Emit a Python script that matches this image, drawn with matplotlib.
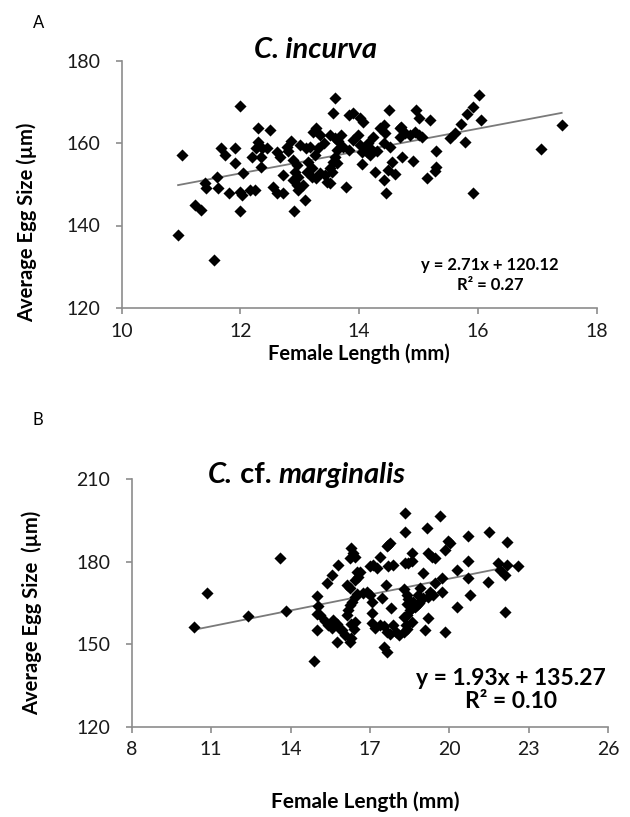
import matplotlib.pyplot as plt
import numpy as np

# Panel A: C. incurva (female length mm, average egg size um)
incurva_len = [10.95, 11.01, 11.23, 11.33, 11.40, 11.42, 11.55, 11.60, 11.62, 11.68,
               11.74, 11.80, 11.90, 11.90, 12.00, 12.00, 12.02, 12.00, 12.05, 12.16,
               12.25, 12.19, 12.30, 12.50, 12.30, 12.27, 12.37, 12.35, 12.35, 12.44,
               12.55, 12.61, 12.72, 12.61, 12.67, 12.78, 12.72, 12.90, 13.00, 13.11,
               13.09, 13.23, 13.28, 12.89, 12.95, 12.92, 12.97, 12.89, 12.95, 12.97,
               13.06, 13.12, 13.14, 13.20, 13.26, 13.31, 13.34, 13.28, 13.42, 13.45,
               13.51, 13.51, 13.56, 13.59, 13.62, 13.51, 13.59, 13.34, 13.17, 13.20,
               13.56, 13.59, 13.82, 13.90, 14.01, 14.07, 14.50, 14.96, 15.00, 15.20,
               16.02, 15.92, 15.81, 15.71, 15.61, 15.53, 16.05, 15.78, 15.91, 15.30,
               15.30, 15.27, 15.14, 14.91, 14.72, 14.56, 14.49, 14.60, 14.41, 14.45,
               14.27, 14.05, 13.78, 17.41, 17.06, 13.64, 13.70, 13.73, 13.82, 13.90,
               13.98, 14.01, 14.04, 14.10, 14.13, 14.15, 14.18, 14.21, 14.24, 14.35,
               14.41, 14.43, 14.41, 14.52, 14.69, 14.71, 14.77, 14.86, 14.94, 15.00,
               15.05, 14.69, 13.55, 13.62, 12.80, 12.85, 13.40, 14.30]
incurva_egg = [137.7, 157.1, 145.0, 143.8, 150.2, 149.0, 131.6, 151.8, 149.0, 158.9,
               157.1, 147.8, 158.9, 155.1, 169.0, 148.2, 147.4, 143.5, 152.7, 148.6,
               148.6, 156.7, 163.6, 163.2, 160.3, 158.7, 158.7, 156.7, 154.3, 158.7,
               149.4, 147.8, 147.8, 157.9, 156.7, 159.1, 152.2, 143.5, 159.5, 158.7,
               146.2, 162.7, 163.6, 155.9, 154.7, 153.0, 151.8, 151.0, 149.8, 148.6,
               149.8, 153.0, 155.5, 153.9, 157.1, 158.7, 152.7, 151.4, 152.2, 150.6,
               150.2, 153.9, 155.5, 156.7, 158.3, 161.9, 161.1, 161.9, 159.1, 151.8,
               167.2, 171.0, 166.8, 167.2, 166.0, 165.2, 168.0, 168.0, 166.0, 165.6,
               171.6, 168.8, 167.0, 164.5, 162.4, 161.1, 165.6, 160.2, 147.8, 158.1,
               154.3, 153.2, 151.4, 155.6, 156.7, 155.3, 153.5, 152.4, 151.0, 147.8,
               153.0, 154.8, 149.4, 164.4, 158.5, 160.5, 161.9, 159.1, 158.3, 160.7,
               161.9, 159.5, 157.9, 159.1, 157.9, 159.9, 157.1, 158.3, 161.5, 163.6,
               164.4, 162.4, 159.9, 159.1, 163.6, 164.0, 162.4, 161.9, 162.7, 161.9,
               161.5, 161.5, 153.0, 155.1, 158.0, 160.5, 160.0, 158.0]
incurva_fit = (2.71, 120.12)

# Panel B: C. cf. marginalis
marg_len = [10.36, 10.83, 12.40, 13.60, 13.83, 14.88, 14.99, 15.05, 14.99, 15.10,
            14.99, 15.30, 15.42, 15.55, 15.60, 15.75, 15.85, 15.36, 15.55, 15.80,
            15.74, 15.93, 16.05, 16.24, 16.30, 16.12, 16.24, 16.30, 16.37, 16.24,
            16.43, 16.50, 16.56, 16.43, 16.62, 16.33, 16.24, 16.18, 16.12, 16.43,
            16.50, 16.30, 16.40, 16.45, 16.87, 17.00, 17.06, 16.74, 17.00, 17.12,
            17.25, 17.38, 17.06, 17.38, 17.06, 17.19, 17.51, 17.63, 17.76, 17.51,
            17.63, 17.69, 17.75, 17.63, 17.69, 17.88, 17.88, 18.00, 18.10, 18.32,
            18.32, 18.32, 18.45, 18.57, 18.30, 18.40, 18.45, 18.40, 18.50, 18.40,
            18.30, 18.35, 18.40, 18.30, 18.70, 18.85, 19.64, 19.14, 19.96, 20.02,
            19.83, 20.71, 21.50, 22.18, 19.20, 19.33, 19.45, 18.57, 19.01, 20.27,
            20.71, 20.71, 21.47, 21.84, 21.91, 22.16, 22.60, 22.10, 22.10, 20.78,
            20.27, 19.71, 19.71, 19.45, 19.39, 19.20, 19.26, 19.01, 18.82, 18.89,
            18.76, 18.63, 18.57, 18.57, 19.20, 19.08, 19.83, 17.45, 17.80, 17.60]
marg_egg = [156.4, 168.6, 160.3, 181.5, 162.2, 143.8, 167.5, 164.0, 161.0, 160.5,
            155.2, 158.5, 157.0, 156.0, 158.8, 157.5, 155.5, 172.2, 175.2, 178.9,
            150.9, 155.2, 153.4, 150.9, 152.2, 171.6, 170.3, 185.0, 183.1, 181.3,
            181.9, 176.4, 174.6, 173.5, 176.4, 165.3, 164.1, 162.3, 160.5, 167.1,
            168.3, 157.5, 155.5, 158.0, 169.1, 167.9, 165.4, 168.5, 178.3, 178.9,
            177.7, 181.9, 161.3, 157.1, 157.7, 155.9, 156.5, 154.6, 153.6, 149.1,
            147.3, 186.2, 186.8, 185.6, 178.3, 178.9, 157.1, 154.6, 153.4, 197.7,
            191.0, 179.5, 179.5, 183.1, 170.0, 168.0, 166.5, 164.5, 162.5, 160.5,
            160.0, 157.0, 155.5, 154.5, 163.5, 165.0, 196.5, 192.3, 187.4, 186.8,
            184.4, 189.2, 191.0, 187.1, 183.1, 181.9, 181.3, 180.1, 175.8, 177.0,
            180.1, 174.0, 172.8, 179.5, 177.0, 178.9, 178.3, 175.2, 161.9, 168.0,
            163.7, 174.0, 169.1, 172.2, 168.0, 167.3, 169.1, 166.7, 168.0, 170.3,
            164.3, 165.5, 163.1, 158.2, 159.5, 155.2, 154.4, 167.0, 163.0, 171.5]
marg_fit = (1.93, 135.27)

FONT = 'Lato'
plt.rcParams['font.family'] = FONT
GREY = '#8c8c8c'

fig = plt.figure(figsize=(6.3, 8.17), dpi=100)
W, H = 630, 817


def fx(px):
    return px / W


def fy(py):
    return 1 - py / H


def style(ax):
    for s in ('top', 'right'):
        ax.spines[s].set_visible(False)
    for s in ('left', 'bottom'):
        ax.spines[s].set_color(GREY)
        ax.spines[s].set_linewidth(1.2)
    ax.tick_params(direction='out', length=4.5, width=1.2, color=GREY,
                   labelsize=14, labelcolor='#1a1a1a')
    ax.tick_params(axis='y', pad=11)
    ax.tick_params(axis='x', pad=6)


def panel(ax, xs, ys, fit, xlim, xticks, ylim, yticks):
    ax.scatter(xs, ys, marker='D', s=38, color='black', linewidths=0, zorder=3)
    m, b = fit
    xl = np.array([min(xs), max(xs)])
    ax.plot(xl, m * xl + b, color='#7a7a7a', lw=1.3, zorder=2)
    ax.set_xlim(xlim)
    ax.set_ylim(ylim)
    ax.set_xticks(xticks)
    ax.set_yticks(yticks)
    style(ax)


# ---- panel A
ax1 = fig.add_axes([fx(121.7), fy(308), fx(596.7) - fx(121.7), fy(60.5) - fy(308)])
panel(ax1, incurva_len, incurva_egg, incurva_fit, (10, 18), [10, 12, 14, 16, 18],
      (120, 180), [120, 140, 160, 180])
ax1.set_ylabel('Average Egg Size (µm)', fontsize=14.5, fontweight='bold')
ax1.yaxis.set_label_coords((37 - 121.7) / 475, 0.345)
ax1.set_xlabel('Female Length (mm)', fontsize=14.5, fontweight='bold')
ax1.xaxis.set_label_coords(0.50, (308 - 343) / 247.5)
ax1.text(0.775, 0.133, 'y = 2.71x + 120.12\nR² = 0.27', transform=ax1.transAxes,
         ha='center', va='center', fontsize=12, fontweight='bold', linespacing=1.3)
fig.text(fx(315), fy(58), 'C. incurva', ha='center', va='baseline', fontsize=21,
         fontweight='bold', style='italic')
fig.text(fx(33), fy(28), 'A', ha='left', va='baseline', fontsize=12)

# ---- panel B
ax2 = fig.add_axes([fx(131.7), fy(726.7), fx(608.3) - fx(131.7), fy(479.3) - fy(726.7)])
panel(ax2, marg_len, marg_egg, marg_fit, (8, 26), [8, 11, 14, 17, 20, 23, 26],
      (120, 210), [120, 150, 180, 210])
ax2.set_ylabel('Average Egg Size  (µm)', fontsize=14.5, fontweight='bold')
ax2.yaxis.set_label_coords((42 - 131.7) / 476.6, 0.46)
ax2.set_xlabel('Female Length (mm)', fontsize=15, fontweight='bold')
ax2.xaxis.set_label_coords(0.49, (726.7 - 791) / 247.4)
ax2.text(0.796, 0.148, 'y = 1.93x + 135.27\nR² = 0.10', transform=ax2.transAxes,
         ha='center', va='center', fontsize=16.5, fontweight='bold', linespacing=1.15)
t1 = fig.text(fx(208), fy(483), 'C.', ha='left', va='baseline', fontsize=21,
              fontweight='bold', style='italic')
t2 = fig.text(0, 0, ' cf. ', fontsize=21, fontweight='bold', ha='left', va='baseline')
t3 = fig.text(0, 0, 'marginalis', fontsize=21, fontweight='bold', style='italic',
              ha='left', va='baseline')
fig.canvas.draw()
r = fig.canvas.get_renderer()
inv = fig.transFigure.inverted()
bb1 = t1.get_window_extent(r)
t2.set_position((inv.transform((bb1.x1, 0))[0], fy(483)))
bb2 = t2.get_window_extent(r)
t3.set_position((inv.transform((bb2.x1, 0))[0], fy(483)))
fig.text(fx(33), fy(425), 'B', ha='left', va='baseline', fontsize=12)

fig.savefig('out.png', dpi=100)
